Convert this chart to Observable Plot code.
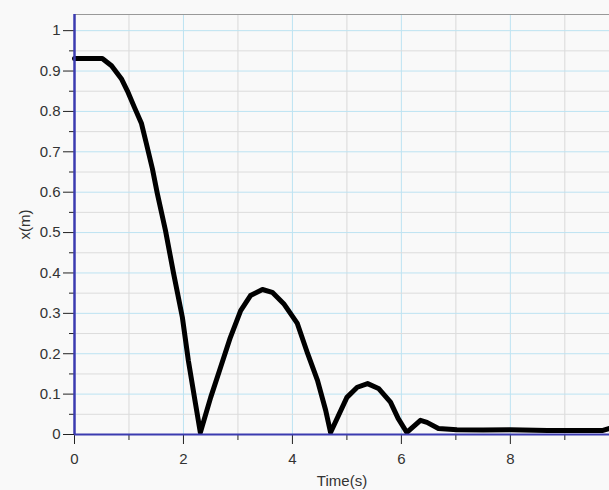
<!DOCTYPE html>
<html>
<head>
<meta charset="utf-8">
<script src="https://cdn.jsdelivr.net/npm/d3@7"></script>
<script src="https://cdn.jsdelivr.net/npm/@observablehq/plot@0.6"></script>
<style>
  html, body { margin: 0; padding: 0; background: #f9f9f9; }
  svg { display: block; }
</style>
</head>
<body>
<div id="chart"></div>
<script>
// Data
const times = [0, 0.3, 0.51, 0.68, 0.86, 0.97, 1.1, 1.23, 1.32, 1.43, 1.52, 1.67, 1.82, 1.98, 2.09, 2.22, 2.31,
  2.5, 2.68, 2.86, 3.05, 3.23, 3.45, 3.63, 3.84, 4.09, 4.28, 4.46, 4.61, 4.7,
  5.0, 5.19, 5.38, 5.58, 5.8, 5.94, 6.1, 6.35, 6.47, 6.68, 7.02, 7.5, 8.0, 8.68, 9.7, 9.82];
const positions = [0.931, 0.931, 0.931, 0.913, 0.881, 0.851, 0.81, 0.77, 0.72, 0.658, 0.597, 0.505, 0.398, 0.29, 0.183, 0.077, 0.005,
  0.092, 0.166, 0.24, 0.307, 0.344, 0.359, 0.352, 0.324, 0.275, 0.2, 0.134, 0.06, 0.005,
  0.092, 0.117, 0.126, 0.114, 0.08, 0.04, 0.005, 0.035, 0.03, 0.015, 0.012, 0.011, 0.012, 0.01, 0.01, 0.015];

const xLabelTicks = [0, 2, 4, 6, 8];
const xMinorTicks = [1, 3, 5, 7, 9];
const yLabelTicks = [0, 0.1, 0.2, 0.3, 0.4, 0.5, 0.6, 0.7, 0.8, 0.9, 1];
const yMinorTicks = [0.05, 0.15, 0.25, 0.35, 0.45, 0.55, 0.65, 0.75, 0.85, 0.95];
const xDomain = [0, 9.82];
const yDomain = [0, 1.04];

const data = times.map((t, i) => ({t, x: positions[i]}));
const fmt = d => String(+d.toFixed(2));

const chart = Plot.plot({
  width: 609,
  height: 490,
  marginLeft: 74,
  marginRight: 0,
  marginTop: 14,
  marginBottom: 56,
  style: {background: "#f9f9f9", fontFamily: "'Liberation Sans', Arial, sans-serif", fontSize: "15px", color: "#333"},
  x: {domain: xDomain, label: null},
  y: {domain: yDomain, label: null},
  marks: [
    Plot.ruleX(xMinorTicks, {stroke: "#d9d9d9", strokeWidth: 1}),
    Plot.ruleX(xLabelTicks.filter(d => d > 0), {stroke: "#bde3f2", strokeWidth: 1}),
    Plot.ruleY(yMinorTicks, {stroke: "#dcdcdc", strokeWidth: 1}),
    Plot.ruleY(yLabelTicks.filter(d => d > 0), {stroke: "#bde3f2", strokeWidth: 1}),
    Plot.ruleY([yDomain[1]], {stroke: "#999", strokeWidth: 1}),
    Plot.axisY(yMinorTicks, {tickSize: 5, text: null, label: null, stroke: "#222"}),
    Plot.axisY(yLabelTicks, {tickSize: 11, tickPadding: 3, tickFormat: fmt, label: "x(m)", labelAnchor: "center", labelArrow: "none", labelOffset: 55, fontSize: 15, fill: "#333", stroke: "#222"}),
    Plot.axisX(xMinorTicks, {tickSize: 6, text: null, label: null, stroke: "#222"}),
    Plot.axisX(xLabelTicks, {tickSize: 10, tickPadding: 9, tickFormat: fmt, label: "Time(s)", labelAnchor: "center", labelArrow: "none", labelOffset: 51, fontSize: 15, fill: "#333", stroke: "#222"}),
    Plot.line(data, {x: "t", y: "x", stroke: "#000", strokeWidth: 5, strokeLinejoin: "round", strokeLinecap: "round"}),
    Plot.ruleY([0], {stroke: "#3b3bb0", strokeWidth: 2}),
    Plot.ruleX([0], {stroke: "#3b3bb0", strokeWidth: 2.5})
  ]
});
document.getElementById("chart").appendChild(chart);
</script>
</body>
</html>
